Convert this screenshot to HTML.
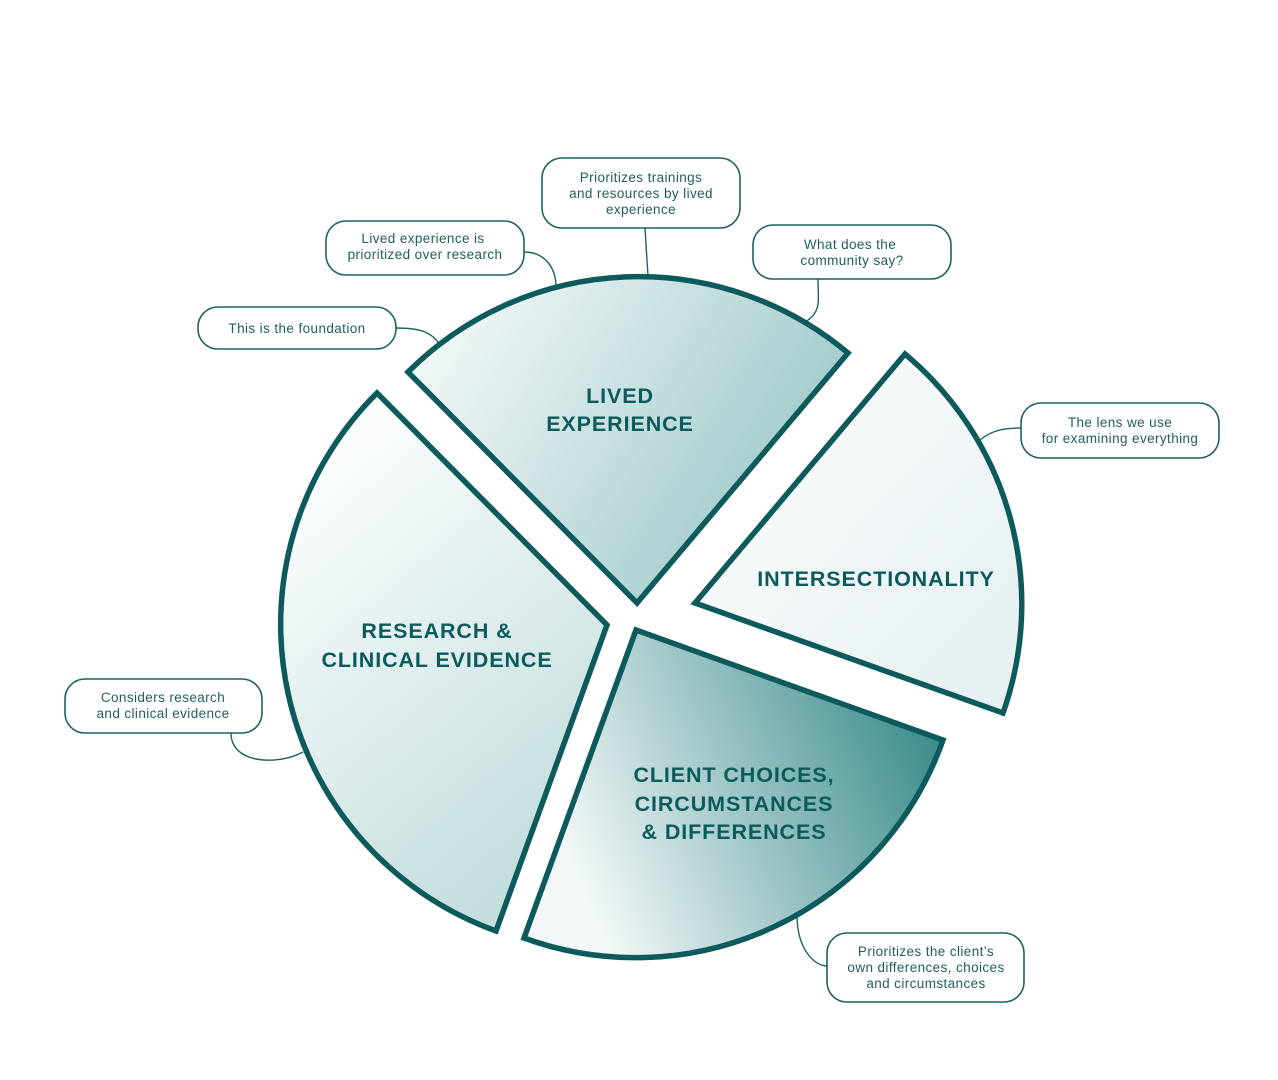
<!DOCTYPE html>
<html><head><meta charset="utf-8"><style>
html,body{margin:0;padding:0;background:#fff;width:1278px;height:1080px;overflow:hidden}
svg{display:block}
.c{font-family:"Liberation Sans",sans-serif;font-size:13.5px;fill:#1e5e60;text-anchor:middle;letter-spacing:0.4px}
.l{font-family:"Liberation Sans",sans-serif;font-size:21.5px;font-weight:bold;fill:#0b5a5c;text-anchor:middle;letter-spacing:0.9px}
.b{fill:#fff;stroke:#1e6163;stroke-width:1.6}
.k{fill:none;stroke:#1e6163;stroke-width:1.4}
.s{stroke:#0d5a5c;stroke-width:5.5;stroke-linejoin:miter}
</style></head><body>
<svg width="1278" height="1080" viewBox="0 0 1278 1080" xmlns="http://www.w3.org/2000/svg">
<defs>
<linearGradient id="gL" x1="420" y1="310" x2="820" y2="560" gradientUnits="userSpaceOnUse"><stop offset="0" stop-color="#f7fafa"/><stop offset="1" stop-color="#93c3c3"/></linearGradient>
<linearGradient id="gI" x1="760" y1="450" x2="1010" y2="680" gradientUnits="userSpaceOnUse"><stop offset="0" stop-color="#f8fbfb"/><stop offset="1" stop-color="#e6eff2"/></linearGradient>
<linearGradient id="gC" x1="580" y1="880" x2="930" y2="730" gradientUnits="userSpaceOnUse"><stop offset="0" stop-color="#f2f7f7"/><stop offset="1" stop-color="#3e8d8d"/></linearGradient>
<linearGradient id="gR" x1="320" y1="470" x2="600" y2="800" gradientUnits="userSpaceOnUse"><stop offset="0" stop-color="#fbfdfd"/><stop offset="1" stop-color="#c4dddd"/></linearGradient>
</defs>
<path class="k" d="M645 228 L648 276"/>
<path class="k" d="M818 279 C818 300 822 312 805 322"/>
<path class="k" d="M524 252 C545 252 556 268 556 287"/>
<path class="k" d="M396 328 C420 328 432 332 440 345"/>
<path class="k" d="M1021 428 C1000 428 990 432 980 440"/>
<path class="k" d="M231 733 C231 765 280 765 303 752"/>
<path class="k" d="M797 915 C797 950 815 966 827 966"/>
<path class="s" fill="url(#gL)" d="M637 603 L408 372 A326 326 0 0 1 848 353 Z"/>
<path class="s" fill="url(#gI)" d="M695 603 L905 354 A326 326 0 0 1 1003 713 Z"/>
<path class="s" fill="url(#gC)" d="M636 630 L943 740 A326 326 0 0 1 524 938 Z"/>
<path class="s" fill="url(#gR)" d="M607 625 L496 931 A326 326 0 0 1 377 393 Z"/>
<text class="l" x="620" y="403">LIVED</text>
<text class="l" x="620" y="431">EXPERIENCE</text>
<text class="l" x="876" y="586">INTERSECTIONALITY</text>
<text class="l" x="437" y="638">RESEARCH &amp;</text>
<text class="l" x="437" y="667">CLINICAL EVIDENCE</text>
<text class="l" x="734" y="782">CLIENT CHOICES,</text>
<text class="l" x="734" y="811">CIRCUMSTANCES</text>
<text class="l" x="734" y="839">&amp; DIFFERENCES</text>
<rect class="b" x="542" y="158" width="198" height="70" rx="20"/>
<text class="c" x="641" y="182">Prioritizes trainings</text>
<text class="c" x="641" y="198">and resources by lived</text>
<text class="c" x="641" y="214">experience</text>
<rect class="b" x="753" y="225" width="198" height="54" rx="20"/>
<text class="c" x="850" y="249">What does the</text>
<text class="c" x="852" y="265">community say?</text>
<rect class="b" x="326" y="221" width="198" height="54" rx="20"/>
<text class="c" x="423" y="243">Lived experience is</text>
<text class="c" x="425" y="259">prioritized over research</text>
<rect class="b" x="198" y="307" width="198" height="42" rx="20"/>
<text class="c" x="297" y="333">This is the foundation</text>
<rect class="b" x="1021" y="403" width="198" height="55" rx="20"/>
<text class="c" x="1120" y="427">The lens we use</text>
<text class="c" x="1120" y="443">for examining everything</text>
<rect class="b" x="65" y="679" width="197" height="54" rx="20"/>
<text class="c" x="163" y="702">Considers research</text>
<text class="c" x="163" y="718">and clinical evidence</text>
<rect class="b" x="827" y="933" width="197" height="69" rx="20"/>
<text class="c" x="926" y="956">Prioritizes the client’s</text>
<text class="c" x="926" y="972">own differences, choices</text>
<text class="c" x="926" y="988">and circumstances</text>
</svg>
</body></html>
